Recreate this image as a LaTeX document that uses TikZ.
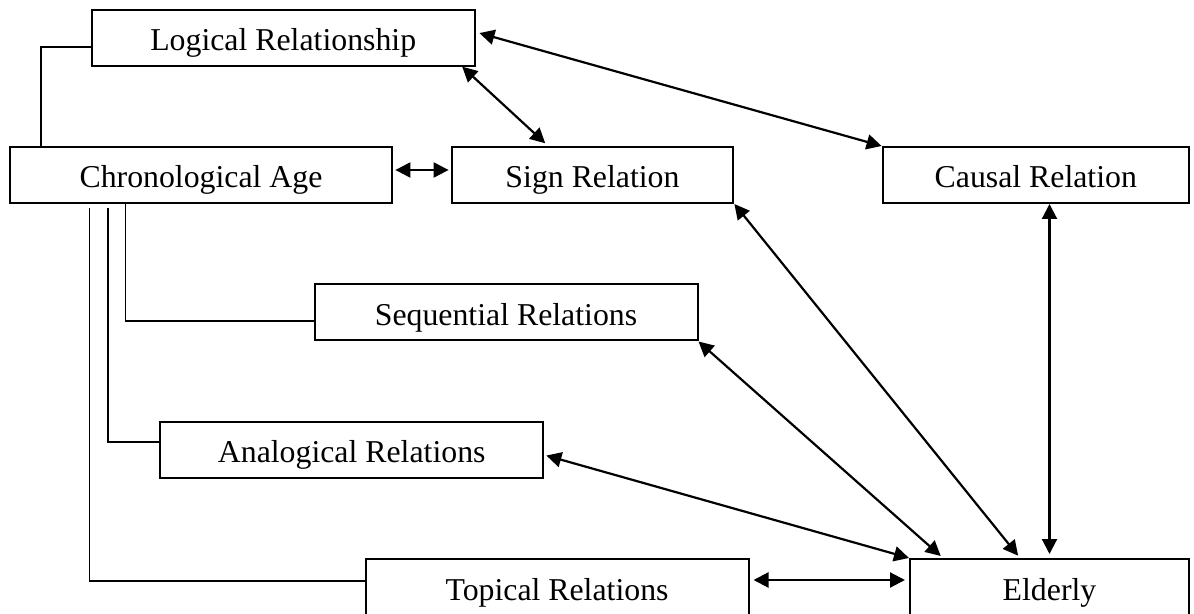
\documentclass[tikz,border=0pt]{standalone}
\usepackage{fontspec}
\setmainfont{Liberation Serif}
\usetikzlibrary{arrows.meta, positioning, calc}

\tikzset{
    box/.style={draw, line width=1pt, minimum height=28pt, inner sep=0pt,
                text height=14pt, text depth=1pt,
                font=\fontsize{15.9pt}{19pt}\selectfont},
    link/.style={line width=0.65pt},
    rel/.style={line width=1.1pt, {Triangle[length=7.5pt,width=7.5pt]}-{Triangle[length=7.5pt,width=7.5pt]}}
}

\begin{document}
\begin{tikzpicture}[x=0.5pt, y=-0.5pt]
        \clip (0,0) rectangle (1194,614);

        \node[box, minimum width=191.4pt] (logic) at (283.2,37.7) {Logical Relationship};
        \node[box, minimum width=191.4pt] (chrono) at (201,175) {Chronological Age};
        \node[box, minimum width=140.9pt] (sign) at (592.5,175) {Sign Relation};
        \node[box, minimum width=153.2pt] (causal) at (1035.8,175) {Causal Relation};
        \node[box, minimum width=191.5pt] (seq) at (506,312.5) {Sequential Relations};
        \node[box, minimum width=191.7pt] (analog) at (351.7,450) {Analogical Relations};
        \node[box, minimum width=191.5pt] (topic) at (557,587) {Topical Relations};
        \node[box, minimum width=139.5pt] (elderly) at (1049.5,587) {Elderly};

        % tree lines
        \draw[link] ([yshift=-4.65pt]logic.west) -| ([xshift=16.25pt]chrono.north west);
        \draw[link] ([xshift=58.35pt]chrono.south west) |- ([yshift=-4.25pt]seq.west);
        \draw[link] ([xshift=49.75pt,yshift=-2pt]chrono.south west) |- ([yshift=4pt]analog.west);
        \draw[link] ([xshift=40.55pt,yshift=-2pt]chrono.south west) |- ([yshift=3pt]topic.west);

        % relations
        \draw[rel, shorten <=2pt] ([yshift=2.85pt]logic.east) -- (causal.north west);
        \draw[rel, shorten >=2pt] ([xshift=-6.7pt]logic.south east) -- ([xshift=48.8pt]sign.north west);
        \draw[rel, shorten <=1pt, shorten >=1pt] ([yshift=2.5pt]chrono.east) -- ([yshift=2.5pt]sign.west);
        \draw[rel, shorten >=1.5pt] (sign.south east) -- ([xshift=55.5pt]elderly.north west);
        \draw[rel, shorten >=1.5pt] (seq.south east) -- ([xshift=17pt]elderly.north west);
        \draw[rel, shorten <=1pt] ([yshift=-2.5pt]analog.east) -- (elderly.north west);
        \draw[rel, shorten <=2pt] (elderly.north) -- (elderly.north |- causal.south);
        \draw[rel, shorten <=2pt, shorten >=2pt] ([yshift=3.5pt]topic.east) -- ([yshift=3.5pt]elderly.west);
    \end{tikzpicture}
\end{document}
